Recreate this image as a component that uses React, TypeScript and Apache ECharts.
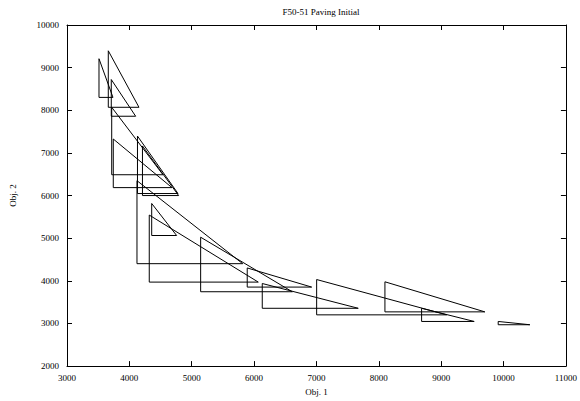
import React, { useEffect, useRef } from "react";
import * as echarts from "echarts";

// Each cell is a right triangle: (left, top) -> (left, bottom) -> (right, bottom) -> back
const leftX = [3513, 3662, 3710, 3717, 3742, 4130, 4210, 4122, 4358, 4319, 5143, 5890, 6131, 7003, 8098, 8686, 9914];
const rightX = [3737, 4154, 4101, 4539, 4683, 4780, 4790, 5817, 4758, 6067, 6612, 6923, 7670, 9087, 9700, 9529, 10422];
const topY = [9209, 9395, 8721, 8070, 7326, 7395, 7163, 6349, 5814, 5542, 5023, 4302, 3937, 4030, 3977, 3356, 3047];
const bottomY = [8302, 8070, 7860, 6488, 6186, 6047, 6000, 4402, 5063, 3970, 3744, 3853, 3356, 3202, 3272, 3047, 2970];

const xTicks = { min: 3000, max: 11000, interval: 1000 };
const yTicks = { min: 2000, max: 10000, interval: 1000 };

const TITLE = "F50-51 Paving Initial";
const X_NAME = "Obj. 1";
const Y_NAME = "Obj. 2";

const FONT = "'Liberation Serif', 'DejaVu Serif', serif";

export default function App() {
  const ref = useRef<HTMLDivElement>(null);
  useEffect(() => {
    if (!ref.current) return;
    const chart = echarts.init(ref.current, undefined, { renderer: "svg" });
    const series = leftX.map((l, i) => ({
      type: "line" as const,
      data: [
        [l, topY[i]],
        [l, bottomY[i]],
        [rightX[i], bottomY[i]],
        [l, topY[i]],
      ],
      symbol: "none",
      silent: true,
      lineStyle: { color: "#000", width: 1 },
      xAxisIndex: 0,
      yAxisIndex: 0,
    }));
    const axisCommon = {
      type: "value" as const,
      splitLine: { show: false },
      axisLine: { show: true, onZero: false, lineStyle: { color: "#000", width: 1 } },
      axisTick: { show: true, inside: true, length: 5, lineStyle: { color: "#000" } },
    };
    const plain = (v: number) => String(v);
    chart.setOption({
      animation: false,
      backgroundColor: "#fff",
      title: {
        text: TITLE,
        left: 316,
        top: 2,
        textAlign: "center",
        textStyle: { fontFamily: FONT, fontSize: 9, fontWeight: "normal", color: "#000" },
      },
      grid: { left: 67, right: 14, top: 25, bottom: 32, containLabel: false },
      xAxis: [
        {
          ...axisCommon,
          ...xTicks,
          position: "bottom",
          name: X_NAME,
          nameLocation: "middle",
          nameGap: 19,
          nameTextStyle: { fontFamily: FONT, fontSize: 9, color: "#000" },
          axisLabel: { fontFamily: FONT, fontSize: 9, color: "#000", margin: 7, formatter: plain },
        },
        {
          ...axisCommon,
          ...xTicks,
          position: "top",
          axisLabel: { show: false },
        },
      ],
      yAxis: [
        {
          ...axisCommon,
          ...yTicks,
          position: "left",
          name: Y_NAME,
          nameLocation: "middle",
          nameGap: 50,
          nameRotate: 90,
          nameTextStyle: { fontFamily: FONT, fontSize: 9, color: "#000" },
          axisLabel: { fontFamily: FONT, fontSize: 9, color: "#000", margin: 8, formatter: plain },
        },
        {
          ...axisCommon,
          ...yTicks,
          position: "right",
          axisLabel: { show: false },
        },
      ],
      series,
    });
    return () => chart.dispose();
  }, []);
  return (
    <div
      ref={ref}
      style={{ position: "fixed", left: 0, top: 0, width: 580, height: 401, background: "#fff" }}
    />
  );
}
